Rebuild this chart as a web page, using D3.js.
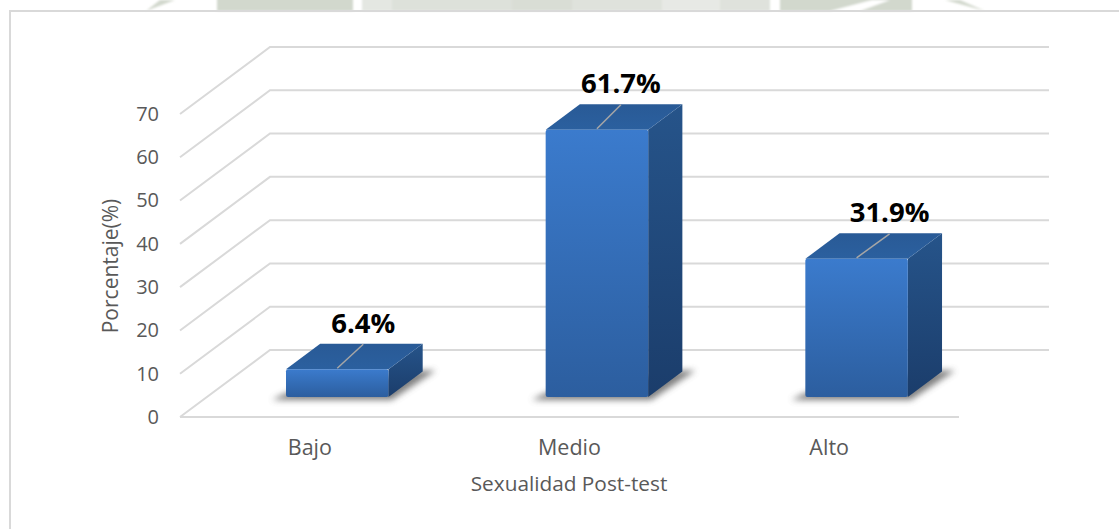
<!DOCTYPE html>
<html>
<head>
<meta charset="utf-8">
<script src="https://cdn.jsdelivr.net/npm/d3@7"></script>
<style>
html,body{margin:0;padding:0;background:#fff;overflow:hidden;}
text{font-family:'Open Sans',sans-serif;}
</style>
</head>
<body>
<div id="chart"></div>
<script>
const categories = ["Bajo", "Medio", "Alto"];
const values = [6.4, 61.7, 31.9];
const valueLabels = ["6.4%", "61.7%", "31.9%"];
const yTicks = [0, 10, 20, 30, 40, 50, 60, 70];
const xTitle = "Sexualidad Post-test";
const yTitle = "Porcentaje(%)";

const width = 1119, height = 529;

const svg = d3.select("#chart").append("svg")
  .attr("width", width).attr("height", height)
  .style("display", "block");

const defs = svg.append("defs");

const grad = (id, x2, y2, stops) => {
  const g = defs.append("linearGradient").attr("id", id)
    .attr("x1", 0).attr("y1", 0).attr("x2", x2).attr("y2", y2);
  stops.forEach(s => g.append("stop").attr("offset", s[0]).attr("stop-color", s[1]));
};
grad("front", 0, 1, [[0, "#3b7bcd"], [1, "#2c5e9f"]]);
grad("side", 0, 1, [[0, "#26548a"], [1, "#1b3d6b"]]);
grad("top", 0, 1, [[0, "#295a96"], [1, "#2b609f"]]);
defs.append("filter").attr("id", "blur")
  .attr("x", "-20%").attr("y", "-60%").attr("width", "140%").attr("height", "220%")
  .append("feGaussianBlur").attr("stdDeviation", 3);
defs.append("filter").attr("id", "soft")
  .append("feGaussianBlur").attr("stdDeviation", 1);

//======== WATERMARK STRIP AND FRAME =========
const strip = svg.append("g").attr("filter", "url(#soft)");
[[217, 136, "#d2d8cd"], [362, 30, "#e4e7e2"], [392, 120, "#dde1da"], [512, 60, "#d9ddd5"],
 [572, 90, "#dfe2dc"], [662, 58, "#e7e9e5"], [720, 50, "#dfe2dc"], [780, 132, "#d2d8cd"]]
  .forEach(d => strip.append("rect").attr("x", d[0]).attr("y", -3)
    .attr("width", d[1]).attr("height", 14).attr("fill", d[2]));
strip.append("path").attr("d", "M146,11 L175,0 L160,0 Z").attr("fill", "#d2d8cd");
strip.append("path").attr("d", "M860,11 L890,0 L872,0 L830,11 Z").attr("fill", "#fff");
strip.append("path").attr("d", "M985,11 L960,0 L945,0 Z").attr("fill", "#d2d8cd");

svg.append("path")
  .attr("d", `M10,${height} V11 H${width}`)
  .attr("fill", "none").attr("stroke", "#d9d9d9").attr("stroke-width", 2);

//======== SCALES =========
const x = d3.scaleBand().domain(categories).range([180, 959]);
const y = d3.scaleLinear().domain([0, 70]).range([417, 114]);

// depth of the 3D floor, z goes from 0 (front) to 1 (back wall)
const depthX = 90, depthY = 67;
const px = (sx, z) => sx + z * depthX;
const py = (v, z) => y(v) - z * depthY;
const barInset = 79, barW = 102.5, z0 = 0.3, z1 = 0.68;
// the labels were dragged by hand in the original, each leader line has its own run
const leaderRun = [26, 24, 33];

//======== GRID =========
const grid = svg.append("g").attr("fill", "none").attr("stroke", "#d9d9d9").attr("stroke-width", 2);
yTicks.forEach(t => {
  grid.append("path").attr("d", d3.line()([
    [px(x.range()[0], 0), py(t, 0)],
    [px(x.range()[0], 1), py(t, 1)],
    [px(x.range()[1], 1), py(t, 1)]
  ]));
});
grid.append("path").attr("d", d3.line()([[x.range()[0], y(0)], [x.range()[1], y(0)]]));

//======== AXES TEXT =========
const yAxis = svg.append("g").attr("transform", "translate(159,0)")
  .call(d3.axisLeft(y).tickValues(yTicks).tickSize(0).tickPadding(0));
yAxis.select(".domain").remove();
yAxis.selectAll("text").style("font-family", "'Open Sans'").attr("font-size", 20).attr("fill", "#595959");

const xAxis = svg.append("g").attr("transform", "translate(0,440)")
  .call(d3.axisBottom(x).tickSize(0).tickPadding(0));
xAxis.select(".domain").remove();
xAxis.selectAll("text").style("font-family", "'Open Sans'").attr("font-size", 21.5).attr("fill", "#595959")
  .attr("dy", "0.71em");

svg.append("text").attr("x", 569).attr("y", 491).attr("text-anchor", "middle")
  .attr("font-size", 20.8).attr("fill", "#595959").text(xTitle);
svg.append("text").attr("transform", "translate(118,266) rotate(-90)").attr("text-anchor", "middle")
  .attr("font-size", 21).attr("fill", "#595959").text(yTitle);

//======== BARS =========
const poly = pts => d3.line()(pts) + "Z";

categories.forEach((c, i) => {
  const a = x(c) + barInset, b = a + barW, v = values[i];
  const g = svg.append("g");

  // floor shadow
  g.append("path")
    .attr("d", poly([
      [px(a, z0) - 14, py(0, z0) + 3],
      [px(b, z0) + 3, py(0, z0) + 3],
      [px(b, z1) + 13, py(0, z1) - 1],
      [px(b, z1), py(0, z1) - 1],
      [px(a, z0), py(0, z0) - 4]
    ]))
    .attr("fill", "#555").attr("opacity", 0.75).attr("filter", "url(#blur)");

  // side
  g.append("path")
    .attr("d", poly([[px(b, z0), py(0, z0)], [px(b, z1), py(0, z1)], [px(b, z1), py(v, z1)], [px(b, z0), py(v, z0)]]))
    .attr("fill", "url(#side)");
  // top
  g.append("path")
    .attr("d", poly([[px(a, z0), py(v, z0)], [px(b, z0), py(v, z0)], [px(b, z1), py(v, z1)], [px(a, z1), py(v, z1)]]))
    .attr("fill", "url(#top)");
  // front
  g.append("rect")
    .attr("x", px(a, z0)).attr("y", py(v, z0))
    .attr("width", barW).attr("height", py(0, z0) - py(v, z0))
    .attr("rx", 2)
    .attr("fill", "url(#front)");

  // leader line from the bar top to the label
  const mid = (a + b) / 2;
  const lx = px(mid, z0), ly = py(v, z0);
  g.append("line")
    .attr("x1", lx).attr("y1", ly - 1)
    .attr("x2", lx + leaderRun[i]).attr("y2", ly - 25)
    .attr("stroke", "#a6a6a6").attr("stroke-width", 1.5);

  g.append("text")
    .attr("x", lx + leaderRun[i]).attr("y", py(v, z1) - 11)
    .attr("text-anchor", "middle").attr("font-weight", 700)
    .attr("font-size", 27.5).attr("fill", "#000")
    .text(valueLabels[i]);
});
</script>
</body>
</html>
